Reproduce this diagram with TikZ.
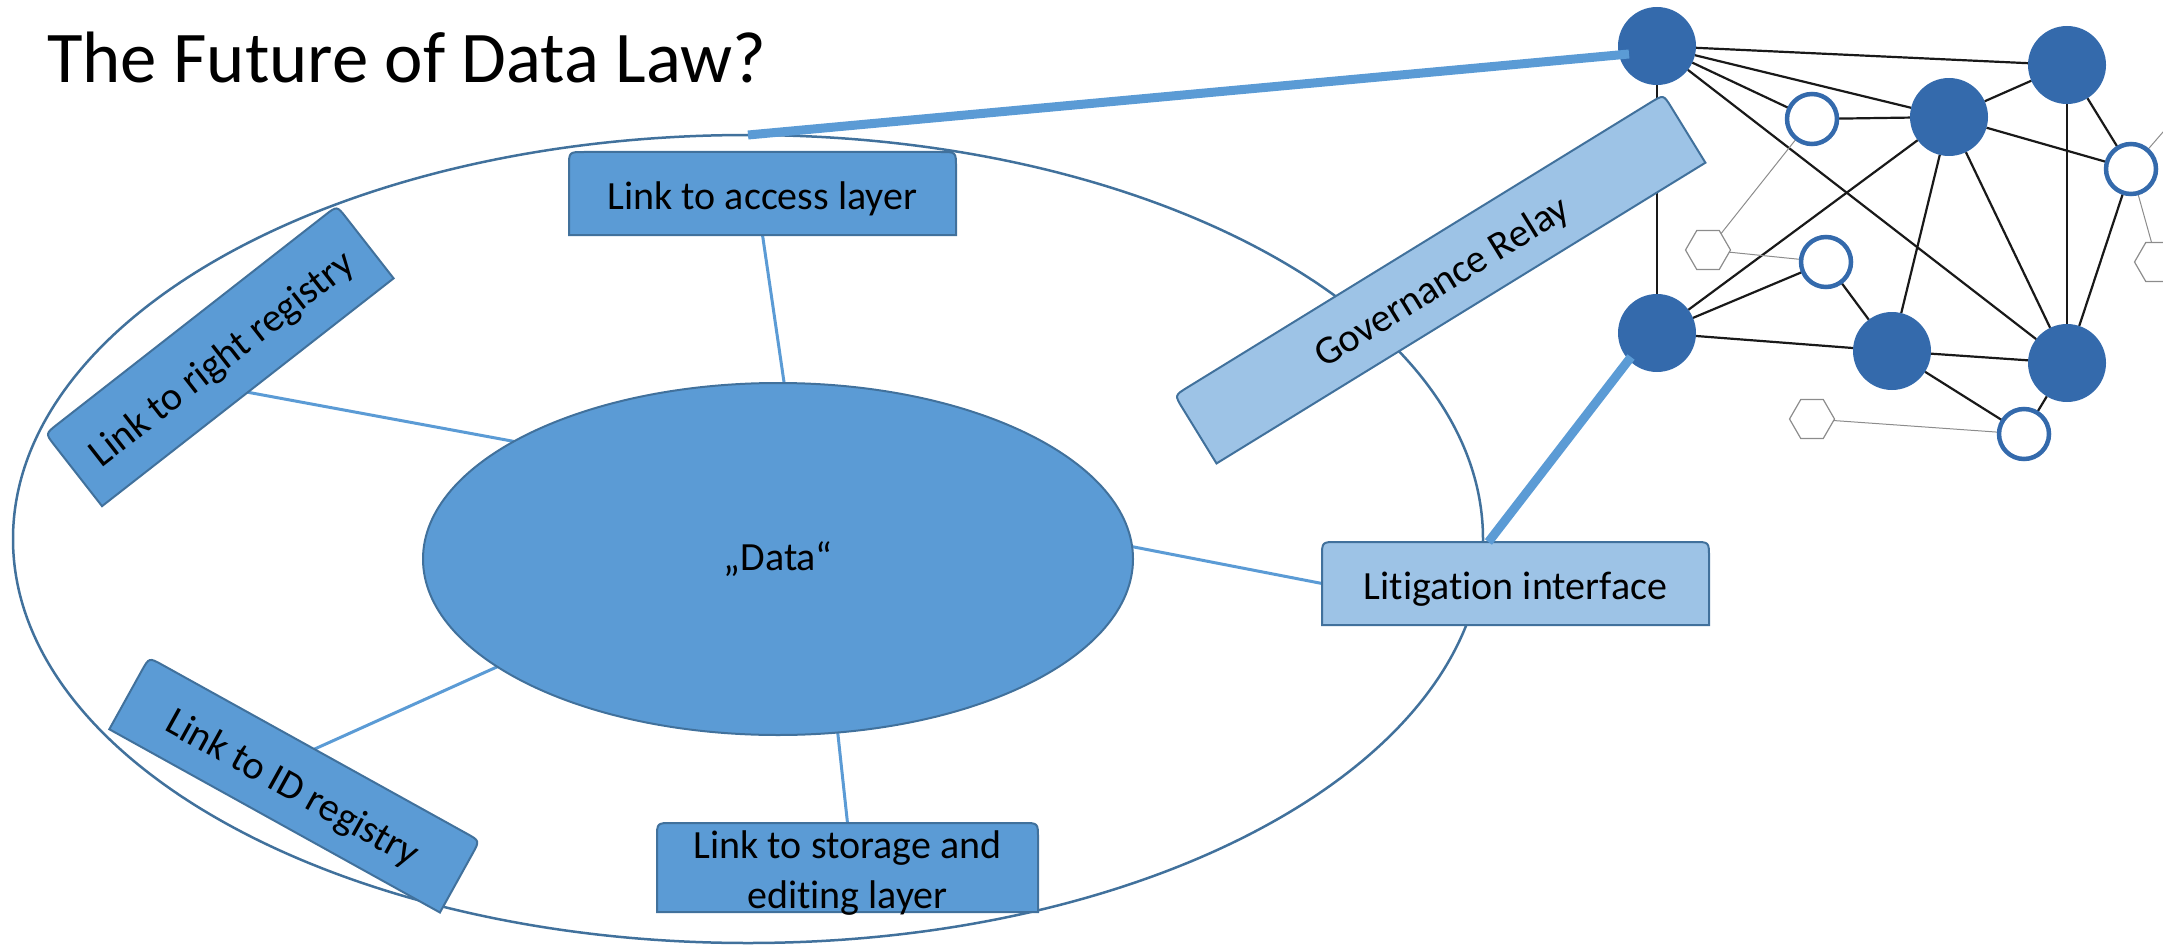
\documentclass[tikz,border=0pt]{standalone}
\usepackage{fontspec}
\setmainfont{Carlito}[Ligatures=NoCommon]
\usetikzlibrary{calc,shapes.geometric}
\definecolor{boxblue}{HTML}{5B9BD5}
\definecolor{boxline}{HTML}{41719C}
\definecolor{lightblue}{HTML}{9DC3E6}
\definecolor{netblue}{HTML}{346AAC}
\definecolor{hexgray}{HTML}{8C8C8C}
\pgfdeclarelayer{bg}
\pgfdeclarelayer{boxes}
\pgfdeclarelayer{edges}
\pgfdeclarelayer{govl}
\pgfsetlayers{bg,boxes,edges,govl,main}
\tikzset{
  boxtext/.style={inner sep=0pt, outer sep=0pt, font=\fontsize{40}{50}\selectfont, align=center, text=black, text height=33pt, text depth=2pt},
  boxshape/.style={fill=boxblue, draw=boxline, line width=2pt},
  lightshape/.style={fill=lightblue, draw=boxline, line width=2pt},
  thinlink/.style={draw=boxblue, line width=3pt},
  thicklink/.style={draw=boxblue, line width=9pt},
  fullnode/.style={circle, fill=netblue, minimum size=78pt, inner sep=0pt, outer sep=0pt},
  opennode/.style={circle, fill=white, draw=netblue, line width=4.5pt, minimum size=50pt, inner sep=0pt, outer sep=0pt},
  hexnode/.style={regular polygon, regular polygon sides=6, draw=hexgray, line width=1.2pt, minimum size=45pt, inner sep=0pt, outer sep=0pt},
  netedge/.style={draw=black!90, line width=2.2pt},
  hexedge/.style={draw=hexgray, line width=1pt},
  bigellstyle/.style={ellipse, draw=boxline, line width=2.5pt, minimum width=1470pt, minimum height=808pt, inner sep=0pt, outer sep=0pt},
  dataellstyle/.style={ellipse, fill=boxblue, draw=boxline, line width=2pt, minimum width=710pt, minimum height=352pt, inner sep=0pt, outer sep=0pt, font=\fontsize{40}{50}\selectfont},
  titlestyle/.style={anchor=base west, inner sep=0pt, outer sep=0pt, font=\fontsize{72.8}{80}\selectfont}
}
\newcommand\topbox[3]{%
  \path[#1] (#2.south west) -- ($(#2.north west)!#3!(#2.south west)$)
    .. controls (#2.north west) .. ($(#2.north west)!#3!(#2.north east)$)
    -- ($(#2.north east)!#3!(#2.north west)$)
    .. controls (#2.north east) .. ($(#2.north east)!#3!(#2.south east)$)
    -- (#2.south east) -- cycle;}
\begin{document}
\begin{tikzpicture}[x=1pt,y=-1pt]
\useasboundingbox (0,0) rectangle (2163,947);
\clip (0,0) rectangle (2163,947);

\begin{pgfonlayer}{bg}
\node[bigellstyle] (bigell) at (748,539) {};
\end{pgfonlayer}

\node[titlestyle] (title) at (47,83) {The Future of Data Law?};
\node[dataellstyle] (data) at (778,559) {„Data“};

% boxes
\node[boxtext, minimum width=387pt, minimum height=83pt] (access) at (762.5,193.5) {Link to access layer};
\node[boxtext, text height=83pt, minimum width=381pt, minimum height=89pt] (storage) at (847.5,867.5) {Link to storage and\\editing layer};
\node[boxtext, minimum width=387pt, minimum height=83pt] (lit) at (1515.5,583.5) {Litigation interface};
\node[boxtext, rotate=38, minimum width=370pt, minimum height=92pt] (rr) at (219.5,356) {Link to right registry};
\node[boxtext, rotate=-29, minimum width=378pt, minimum height=82pt] (idr) at (294.5,785) {Link to ID registry};
\begin{pgfonlayer}{boxes}
\topbox{boxshape}{access}{15pt}
\topbox{boxshape}{storage}{15pt}
\topbox{lightshape}{lit}{15pt}
\topbox{boxshape}{rr}{15pt}
\topbox{boxshape}{idr}{15pt}
\end{pgfonlayer}

% thin connectors
\begin{pgfonlayer}{bg}
\draw[thinlink] (access.south) -- (data.88);
\draw[thinlink] (rr.south) -- (data.156);
\draw[thinlink] (idr.north) -- (data.201);
\draw[thinlink] (storage.north) -- (data.289);
\draw[thinlink] (lit.west) -- (data.2);
\end{pgfonlayer}

% network
\node[fullnode] (A) at (1657,46) {};
\node[fullnode] (B) at (2067,65) {};
\node[fullnode] (C) at (1949,117) {};
\node[fullnode] (D) at (1657,333) {};
\node[fullnode] (E) at (1892,351) {};
\node[fullnode] (F) at (2067,363) {};
\node[opennode] (G) at (1812,119) {};
\node[opennode] (H) at (2131,169) {};
\node[opennode] (I) at (1826,262) {};
\node[opennode] (J) at (2024,434) {};
\node[hexnode] (K) at (1708,250) {};
\node[hexnode] (L) at (1812,419) {};
\node[hexnode] (M) at (2157,262) {};
\coordinate (offhex) at (2195,95);

\begin{pgfonlayer}{edges}
\draw[netedge] (A) -- (B);
\draw[netedge] (A) -- (C);
\draw[netedge] (A) -- (G);
\draw[netedge] (A) -- (F);
\draw[netedge] (A) -- (D);
\draw[netedge] (G) -- (C);
\draw[netedge] (C) -- (B);
\draw[netedge] (C) -- (H);
\draw[netedge] (C) -- (D);
\draw[netedge] (C) -- (E);
\draw[netedge] (C) -- (F);
\draw[netedge] (B) -- (F);
\draw[netedge] (B) -- (H);
\draw[netedge] (H) -- (F);
\draw[netedge] (D) -- (I);
\draw[netedge] (I) -- (E);
\draw[netedge] (D) -- (E);
\draw[netedge] (E) -- (F);
\draw[netedge] (E) -- (J);
\draw[netedge] (F) -- (J);
\draw[hexedge] (G) -- (K);
\draw[hexedge] (K) -- (I);
\draw[hexedge] (L) -- (J);
\draw[hexedge] (H) -- (M);
\draw[hexedge] (H) -- (offhex);
\end{pgfonlayer}

% governance relay
\node[boxtext, rotate=31.6, minimum width=574pt, minimum height=80pt] (gov) at (1440,279) {Governance Relay};
\begin{pgfonlayer}{govl}
\topbox{lightshape}{gov}{15pt}
\end{pgfonlayer}

% thick links
\draw[thicklink] (bigell.north) -- ($(A.center)+(-28,8)$);
\draw[thicklink] ($(lit.north west)!0.43!(lit.north east)$) -- ($(D.center)+(-26,24)$);
\end{tikzpicture}
\end{document}
